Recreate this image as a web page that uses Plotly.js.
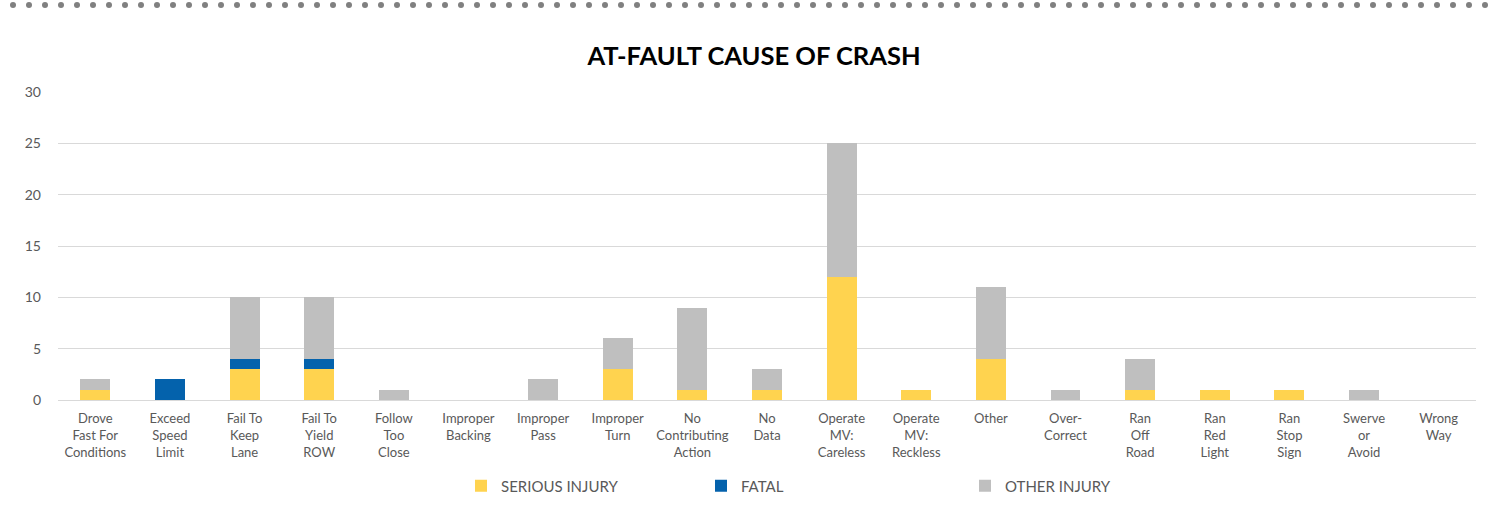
<!DOCTYPE html>
<html>
<head>
<meta charset="utf-8">
<script src="https://cdn.plot.ly/plotly-3.0.1.min.js"></script>
<style>html,body{margin:0;padding:0;background:#fff;}#chart{width:1508px;height:508px;}</style>
</head>
<body>
<div id="chart"></div>
<script>
const categories = [
  "Drove<br>Fast For<br>Conditions", "Exceed<br>Speed<br>Limit", "Fail To<br>Keep<br>Lane", "Fail To<br>Yield<br>ROW",
  "Follow<br>Too<br>Close", "Improper<br>Backing", "Improper<br>Pass", "Improper<br>Turn",
  "No<br>Contributing<br>Action", "No<br>Data", "Operate<br>MV:<br>Careless", "Operate<br>MV:<br>Reckless",
  "Other", "Over-<br>Correct", "Ran<br>Off<br>Road", "Ran<br>Red<br>Light", "Ran<br>Stop<br>Sign",
  "Swerve<br>or<br>Avoid", "Wrong<br>Way"
];
const seriousInjury = [1, 0, 3, 3, 0, 0, 0, 3, 1, 1, 12, 1, 4, 0, 1, 1, 1, 0, 0];
const fatal         = [0, 2, 1, 1, 0, 0, 0, 0, 0, 0, 0, 0, 0, 0, 0, 0, 0, 0, 0];
const otherInjury   = [1, 0, 6, 6, 1, 0, 2, 3, 8, 2, 13, 0, 7, 1, 3, 0, 0, 1, 0];
const yTicks = [0, 5, 10, 15, 20, 25, 30];

const font = "Lato, 'Open Sans', sans-serif";
const legendIds = ["legend", "legend2", "legend3"];
const traces = [
  {name: "SERIOUS INJURY", y: seriousInjury, color: "#FFD34F"},
  {name: "FATAL", y: fatal, color: "#0462AC"},
  {name: "OTHER INJURY", y: otherInjury, color: "#BFBFBF"}
].map((s, i) => ({
  type: "bar", x: categories, y: s.y, name: s.name, legend: legendIds[i],
  marker: {color: s.color, line: {width: 0}},
  hoverinfo: "x+y+name"
}));

// decorative dotted rule at the top (plot area spans y px 92..400)
const shapes = [];
for (let i = 0; i < 100; i++) {
  const cx = 13 + i * 16;
  if (cx > 1500) break;
  shapes.push({type: "circle", xref: "paper", yref: "paper",
    x0: (cx - 3 - 58) / 1418, x1: (cx + 3 - 58) / 1418,
    y0: (400 - 8) / 308, y1: (400 - 2) / 308,
    fillcolor: "#808080", line: {width: 0}});
}

const legendFont = {family: font, size: 15, color: "#595959"};
const mkLegend = px => ({orientation: "h", xref: "container", yref: "container",
  x: (px) / 1508, xanchor: "left", y: (508 - 486) / 508, yanchor: "middle",
  font: legendFont, bgcolor: "rgba(0,0,0,0)"});

const layout = {
  width: 1508, height: 508,
  margin: {l: 58, r: 32, t: 92, b: 108, autoexpand: false},
  paper_bgcolor: "#fff", plot_bgcolor: "#fff",
  barmode: "stack", bargap: 0.6,
  title: {text: "<b>AT-FAULT CAUSE OF CRASH</b>", font: {family: font, size: 25.5, color: "#000"},
          x: 0.5, xanchor: "center", y: 0.89, yanchor: "middle"},
  xaxis: {tickfont: {family: font, size: 13, color: "#595959"}, showgrid: false, showline: false,
          ticks: "", tickangle: 0, ticklabelstandoff: 9, fixedrange: true},
  yaxis: {range: [0, 30], tickvals: yTicks, ticktext: yTicks.map(String),
          tickfont: {family: font, size: 14, color: "#595959"},
          showgrid: true, gridcolor: "#D9D9D9", gridwidth: 1,
          zeroline: true, zerolinecolor: "#D9D9D9", zerolinewidth: 1,
          showline: false, ticks: "", ticklabelstandoff: 16, fixedrange: true},
  legend: mkLegend(461),
  legend2: mkLegend(701),
  legend3: mkLegend(965),
  shapes: shapes,
  showlegend: true
};

Plotly.newPlot("chart", traces, layout, {displayModeBar: false});
</script>
</body>
</html>
